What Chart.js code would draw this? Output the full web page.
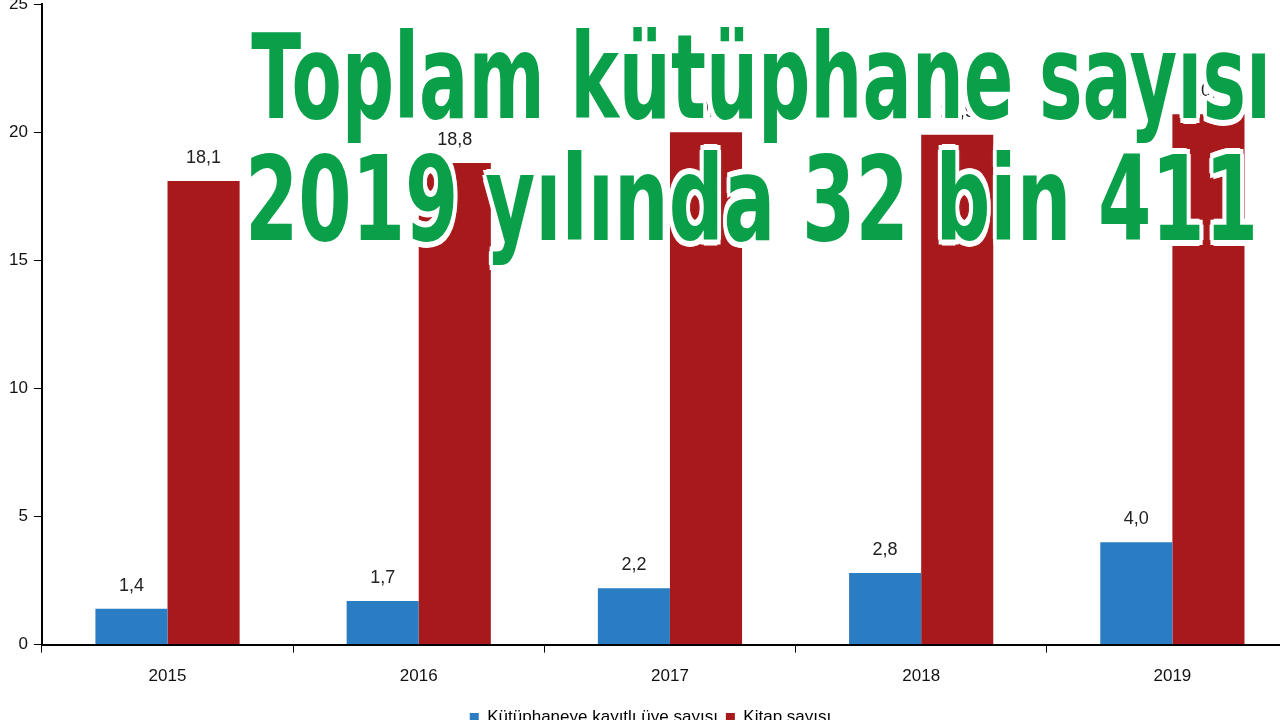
<!DOCTYPE html>
<html>
<head>
<meta charset="utf-8">
<script src="https://cdn.jsdelivr.net/npm/chart.js@4"></script>
<style>
  html, body { margin: 0; padding: 0; width: 1280px; height: 720px; overflow: hidden; background: #fff; }
  #wrap { position: absolute; left: 3px; top: -12px; width: 1295px; height: 748px; }
  .tline {
    position: absolute; left: 0; width: 1280px; text-align: center; white-space: nowrap;
    font-family: "DejaVu Sans", sans-serif; font-weight: bold;
    font-size: 118px; line-height: 118px; color: #0aa04a;
    text-shadow: 0 0 6px #fff, 0 0 6px #fff, 5px 5px 0 #fff, -5px -5px 0 #fff, 5px -5px 0 #fff, -5px 5px 0 #fff, 0 6px 0 #fff, 0 -6px 0 #fff, 6px 0 0 #fff, -6px 0 0 #fff;
  }
  #t1 { top: 18px; transform: translateX(8px) scaleX(0.62); }
  #t2 { top: 140px; transform: translateX(21px) scaleX(0.65); }
</style>
</head>
<body>
<div id="wrap"><canvas id="myChart"></canvas></div>
<div class="tline" id="t1">Toplam kütüphane sayısı</div>
<div class="tline" id="t2">2019 yılında 32 bin 411 oldu</div>
<script>
//! DATA
const years = ['2015', '2016', '2017', '2018', '2019'];
const members = [1.4, 1.7, 2.2, 2.8, 4.0];
const books = [18.1, 18.8, 20.0, 19.9, 20.7];
const yTicks = [0, 5, 10, 15, 20, 25];

//* value labels above bars
const valueLabels = {
    id: 'valueLabels',
    afterDatasetsDraw(chart) {
        const ctx = chart.ctx;
        ctx.save();
        ctx.font = '18px "Liberation Sans", Arial, sans-serif';
        ctx.fillStyle = '#222';
        ctx.textAlign = 'center';
        ctx.textBaseline = 'bottom';
        chart.data.datasets.forEach((ds, i) => {
            chart.getDatasetMeta(i).data.forEach((bar, j) => {
                ctx.fillText(ds.data[j].toFixed(1).replace('.', ','), bar.x, bar.y - 14);
            });
        });
        ctx.restore();
    }
};

const config = {
    type: 'bar',
    data: {
        labels: years,
        datasets: [{
            label: 'Kütüphaneye kayıtlı üye sayısı',
            data: members,
            backgroundColor: '#2b7dc3'
        },
        {
            label: 'Kitap sayısı',
            data: books,
            backgroundColor: '#a8191b'
        }]
    },
    options: {
        responsive: true,
        maintainAspectRatio: false,
        animation: false,
        layout: { padding: { left: 0, right: 0, top: 12, bottom: 0 } },
        plugins: {
            tooltip: { enabled: false },
            legend: {
                position: 'bottom',
                labels: { color: '#000', font: { size: 17, family: 'Liberation Sans' }, boxWidth: 9, boxHeight: 9, padding: 8 }
            }
        },
        datasets: { bar: { barPercentage: 1, categoryPercentage: 0.574 } },
        scales: {
            x: {
                grid: { drawOnChartArea: false, color: '#000', tickLength: 8, offset: true },
                border: { color: '#000', width: 2 },
                ticks: { color: '#111', font: { size: 17, family: 'Liberation Sans' }, padding: 14 }
            },
            y: {
                min: 0, max: 25,
                afterBuildTicks(axis) { axis.ticks = yTicks.map(v => ({ value: v })); },
                grid: { drawOnChartArea: false, color: '#000', tickLength: 8 },
                border: { color: '#000', width: 2 },
                ticks: { color: '#111', font: { size: 17, family: 'Liberation Sans' }, padding: 6 }
            }
        }
    },
    plugins: [valueLabels]
};

//! CREATE CHART
const myChart = new Chart(document.getElementById('myChart'), config);
</script>
</body>
</html>
